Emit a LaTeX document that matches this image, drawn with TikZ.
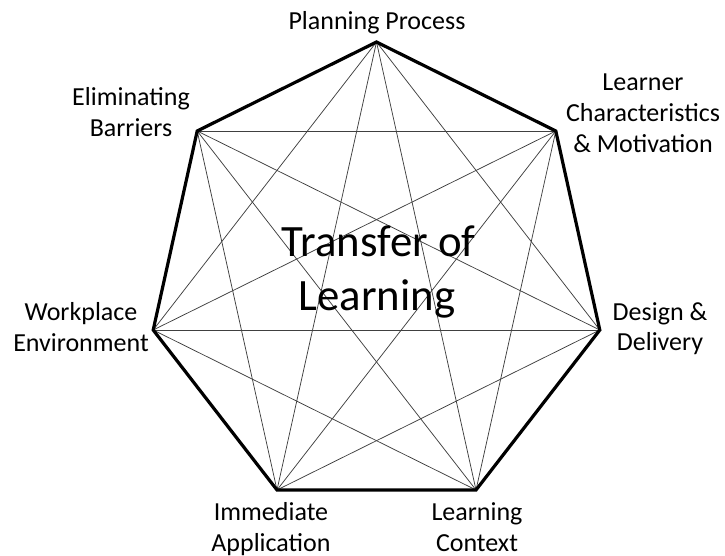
\documentclass[tikz,border=0pt]{standalone}
\usepackage{fontspec}
\setmainfont{Carlito}
\begin{document}
\begin{tikzpicture}[x=1pt,y=-1pt,
  diag/.style={line width=0.75pt,draw=black!75},
  rim/.style={line width=3.2pt,line join=miter,draw=black},
  lbl/.style={anchor=base,inner sep=0pt,font=\fontsize{26}{31}\selectfont},
  big/.style={anchor=base,inner sep=0pt,font=\fontsize{44.8}{53}\selectfont}]
\useasboundingbox (0,0) rectangle (725,556);
\coordinate (v1) at (376.5,42);
\coordinate (v2) at (555.8,131);
\coordinate (v3) at (599.8,330);
\coordinate (v4) at (476,490);
\coordinate (v5) at (277,490);
\coordinate (v6) at (153.2,330);
\coordinate (v7) at (197.2,131);
% diagonals
\foreach \a/\b in {1/3,1/4,1/5,1/6,2/4,2/5,2/6,2/7,3/5,3/6,3/7,4/6,4/7,5/7}
  \draw[diag] (v\a) -- (v\b);
% rim
\draw[rim] (v1) -- (v2) -- (v3) -- (v4) -- (v5) -- (v6) -- (v7) -- cycle;
% labels
\node[lbl] (plan) at (377,30) {Planning Process};
\node[lbl] (elim1) at (131,106) {Eliminating};
\node[lbl] (elim2) at (131,137) {Barriers};
\node[lbl] (lrn1) at (643,91) {Learner};
\node[lbl] (lrn2) at (643,122) {Characteristics};
\node[lbl] (lrn3) at (643,152.5) {\& Motivation};
\node[lbl] (work1) at (81,320) {Workplace};
\node[lbl] (work2) at (81,351) {Environment};
\node[lbl] (des1) at (660,320) {Design \&};
\node[lbl] (des2) at (660,350.5) {Delivery};
\node[lbl] (imm1) at (271,520) {Immediate};
\node[lbl] (imm2) at (271,551) {Application};
\node[lbl] (ctx1) at (477,520) {Learning};
\node[lbl] (ctx2) at (477,551) {Context};
\node[big] (tol1) at (378.5,256.5) {Transfer of};
\node[big] (tol2) at (377,310) {Learning};
\end{tikzpicture}
\end{document}
